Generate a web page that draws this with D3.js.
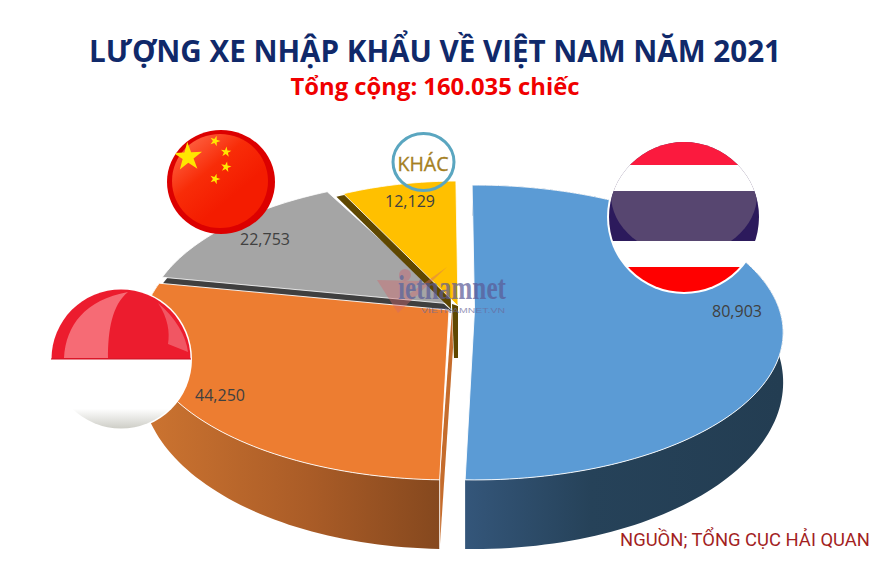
<!DOCTYPE html>
<html><head><meta charset="utf-8">
<script src="https://cdnjs.cloudflare.com/ajax/libs/d3/7.8.5/d3.min.js"></script>
<style>html,body{margin:0;padding:0;background:#fff}svg{display:block}</style></head>
<body><svg id="c" width="882" height="588"></svg>
<script>
const categories = ["Thái Lan","Indonesia","Trung Quốc","Khác"];
const values = [80903,44250,22753,12129];
const titleText = "LƯỢNG XE NHẬP KHẨU VỀ VIỆT NAM NĂM 2021";
const subtitleText = "Tổng cộng: 160.035 chiếc";
const sourceText = "NGUỒN; TỔNG CỤC HẢI QUAN";
const otherLabel = "KHÁC";

// layout
const W=882,H=588, P=0.1525, RX=310, RY=144, BASE_DY=47, BASE_KY=1.13, ROT=-0.0087;
const apex=[{x:474.5,y:310,kx:.984,top:"#5b9bd5"},{x:449,y:310,kx:.98,top:"#ed7d31"},{x:452,y:304,kx:.98,top:"#a5a5a5"},{x:458,y:306,kx:.9,top:"#ffc000"}];
const labelPos=[[737,311],[220,395],[265,239],[410,201]];
const fmt=d3.format(",");
const svg=d3.select("#c");
const defs=svg.append("defs");

const pie=d3.pie().sort(null).startAngle(ROT).endAngle(ROT+2*Math.PI);
const arcs=pie(values);
function proj(a,o,base=false){const u=Math.sin(a),v=-Math.cos(a),s=1/(1-P*v);
  return [o.x+RX*o.kx*u*s, o.y+(base?BASE_DY:0)+RY*(base?BASE_KY:1)*v*s];}
const line=d3.line();
function arcPts(d,o,base){const n=Math.max(8,Math.ceil((d.endAngle-d.startAngle)*40));
  return d3.range(n+1).map(i=>proj(d.startAngle+(d.endAngle-d.startAngle)*i/n,o,base));}
function topPath(d,o){return line([[o.x,o.y],...arcPts(d,o,false)])+"Z";}
function wallPath(d,o){const a=arcPts(d,o,false),b=arcPts(d,o,true).reverse();return line([...a,...b])+"Z";}
const shift=(o,dx,dy)=>({...o,x:o.x+dx,y:o.y+dy});

function grad(id,stops,x1,x2){const g=defs.append("linearGradient").attr("id",id).attr("gradientUnits","userSpaceOnUse")
  .attr("x1",x1).attr("x2",x2).attr("y1",0).attr("y2",0);
  stops.forEach(s=>g.append("stop").attr("offset",s[0]).attr("stop-color",s[1]));}
grad("wb",[[0,"#34567a"],[.4,"#264259"],[1,"#233d52"]],465,780);
grad("wo",[[0,"#cb7330"],[.55,"#aa5c27"],[1,"#85481e"]],150,440);

const chart=svg.append("g");
// grey with its band
chart.append("path").attr("d",topPath(arcs[2],shift(apex[2],0,7))).attr("fill","#3f3f3f");
chart.append("path").attr("d",topPath(arcs[2],apex[2])).attr("fill",apex[2].top).attr("stroke","#fff").attr("stroke-width",.8);
// yellow with its band and cut side
const yo=apex[3];
chart.append("path").attr("d",topPath(arcs[3],shift(yo,-7,3))).attr("fill","#5f4700");
chart.append("path").attr("d",line([[yo.x-6,yo.y-2],[yo.x,yo.y],[yo.x,yo.y+52],[yo.x-4,yo.y+52]])+"Z").attr("fill","#5f4700");
chart.append("path").attr("d",topPath(arcs[3],yo)).attr("fill",apex[3].top).attr("stroke","#fff").attr("stroke-width",.8);
// orange
const oo=apex[1];
chart.append("path").attr("d",wallPath(arcs[1],oo)).attr("fill","url(#wo)");
const ofb=proj(arcs[1].startAngle,oo,true), oft=proj(arcs[1].startAngle,oo,false);
chart.append("path").attr("d",line([[oo.x+3,oo.y],[oo.x+4,oo.y+38],ofb,oft])+"Z").attr("fill","#c56c2c");
chart.append("path").attr("d",topPath(arcs[1],oo)).attr("fill",apex[1].top).attr("stroke","#fff").attr("stroke-width",.9);
chart.append("path").attr("d",line([oft,ofb])).attr("stroke","#fff").attr("stroke-width",.8);
// blue
chart.append("path").attr("d",wallPath(arcs[0],apex[0])).attr("fill","url(#wb)");
chart.append("path").attr("d",topPath(arcs[0],apex[0])).attr("fill",apex[0].top).attr("stroke","#fff").attr("stroke-width",.9);

// value labels
svg.append("g").selectAll("text").data(values).join("text")
 .attr("x",(d,i)=>labelPos[i][0]).attr("y",(d,i)=>labelPos[i][1]+6)
 .attr("text-anchor","middle").attr("font-family","'Open Sans'").attr("font-size",16)
 .attr("textLength",50).attr("lengthAdjust","spacingAndGlyphs").attr("fill","#404040")
 .text(d=>fmt(d));

// watermark
const wm=svg.append("g").attr("opacity",.7);
wm.append("path").attr("d",line([[377,280],[398,313],[447,267],[406,296],[420,281]])+"Z").attr("fill","#d0696e").attr("opacity",.6);
wm.append("circle").attr("cx",405).attr("cy",275).attr("r",6).attr("fill","#c46a78").attr("opacity",.7);
wm.append("text").attr("x",398).attr("y",299).attr("font-family","'Liberation Serif'").attr("font-weight",700).attr("font-size",34)
 .attr("textLength",108).attr("lengthAdjust","spacingAndGlyphs").attr("fill","#5a5a96").text("ietnamnet");
wm.append("text").attr("x",421).attr("y",313).attr("font-family","'Liberation Sans'").attr("font-size",7)
 .attr("textLength",84).attr("lengthAdjust","spacingAndGlyphs").attr("fill","#6a6a9c").text("VIETNAMNET.VN");

// star helper
function star(cx,cy,r,rot){const p=d3.range(10).map(i=>{const a=rot+i*Math.PI/5,q=i%2?r*.382:r;return [cx+q*Math.sin(a),cy-q*Math.cos(a)];});return line(p)+"Z";}

// China flag
const cn=svg.append("g");
grad("cng",[[0,"#ff6a4a"],[.55,"#f82c08"],[1,"#f41c00"]],190,240);
defs.select("#cng").attr("y1",130).attr("y2",190);
defs.append("clipPath").attr("id","cnc").append("ellipse").attr("cx",221).attr("cy",182).attr("rx",54).attr("ry",52);
cn.append("ellipse").attr("cx",221).attr("cy",182).attr("rx",54).attr("ry",52).attr("fill","#dc0000");
cn.append("ellipse").attr("cx",220).attr("cy",181).attr("rx",48).attr("ry",47).attr("fill","url(#cng)");
const cng=cn.append("g").attr("clip-path","url(#cnc)");
cng.append("path").attr("d",star(188,157,15,-.05)).attr("fill","#ffe600");
[[215,141,.3],[226,152,.1],[226,167,.2],[215,179,.3]].forEach(s=>cng.append("path").attr("d",star(s[0],s[1],5.5,s[2])).attr("fill","#ffe600"));

// Indonesia flag
const id=svg.append("g");
defs.append("clipPath").attr("id","idc").append("circle").attr("cx",121).attr("cy",359).attr("r",69.5);
grad("idw",[[0,"#ffffff"],[.72,"#ffffff"],[1,"#cfcfc8"]],0,0);
defs.select("#idw").attr("y1",359).attr("y2",428);
id.append("circle").attr("cx",121).attr("cy",359).attr("r",71).attr("fill","#fff");
const idg=id.append("g").attr("clip-path","url(#idc)");
idg.append("rect").attr("x",50).attr("y",289).attr("width",142).attr("height",70).attr("fill","#ec1c2e");
idg.append("rect").attr("x",50).attr("y",359).attr("width",142).attr("height",70).attr("fill","url(#idw)");
idg.append("path").attr("d","M64,358 C66,325 85,300 128,292 C112,305 108,330 108,358 Z").attr("fill","#f66b75");
idg.append("path").attr("d","M158,303 C176,318 186,336 188,352 L168,344 C170,332 168,318 158,303 Z").attr("fill","#f2606c").attr("opacity",.85);
id.append("rect").attr("x",51).attr("y",358.5).attr("width",140).attr("height",1).attr("fill","#cc1022");

// Thailand flag
const th=svg.append("g");
defs.append("clipPath").attr("id","thc").append("circle").attr("cx",684).attr("cy",217).attr("r",75);
th.append("circle").attr("cx",684).attr("cy",217).attr("r",77).attr("fill","#fff");
const thg=th.append("g").attr("clip-path","url(#thc)");
thg.append("rect").attr("x",605).attr("y",191).attr("width",160).attr("height",50).attr("fill","#2c1a5c");
thg.append("ellipse").attr("cx",684).attr("cy",195).attr("rx",73).attr("ry",60).attr("fill","#574670");
thg.append("rect").attr("x",605).attr("y",142).attr("width",160).attr("height",23).attr("fill","#fb1a3e");
thg.append("rect").attr("x",605).attr("y",165).attr("width",160).attr("height",26).attr("fill","#fff");
thg.append("rect").attr("x",605).attr("y",241).attr("width",160).attr("height",26).attr("fill","#fff");
thg.append("rect").attr("x",605).attr("y",267).attr("width",160).attr("height",26).attr("fill","#ff0000");

// other
svg.append("ellipse").attr("cx",423.5).attr("cy",162).attr("rx",30.5).attr("ry",28.5).attr("fill","none").attr("stroke","#5aa6c0").attr("stroke-width",3);
svg.append("text").attr("x",423).attr("y",171).attr("text-anchor","middle").attr("font-family","'Open Sans'")
 .attr("font-size",20).attr("textLength",51).attr("lengthAdjust","spacingAndGlyphs").attr("fill","#a5801f").attr("stroke","#a5801f").attr("stroke-width",.35).text(otherLabel);

// titles
svg.append("text").attr("x",435).attr("y",62).attr("text-anchor","middle").attr("font-family","'Open Sans'").attr("font-weight",700)
 .attr("font-size",30).attr("textLength",692).attr("lengthAdjust","spacingAndGlyphs").attr("fill","#10296a").text(titleText);
svg.append("text").attr("x",435).attr("y",95).attr("text-anchor","middle").attr("font-family","'Open Sans'").attr("font-weight",700)
 .attr("font-size",23).attr("textLength",289).attr("lengthAdjust","spacingAndGlyphs").attr("fill","#f00000").text(subtitleText);
svg.append("text").attr("x",620).attr("y",546).attr("font-family","Roboto")
 .attr("font-size",18.5).attr("textLength",250).attr("lengthAdjust","spacingAndGlyphs").attr("fill","#a31f1f").text(sourceText);
</script></body></html>
